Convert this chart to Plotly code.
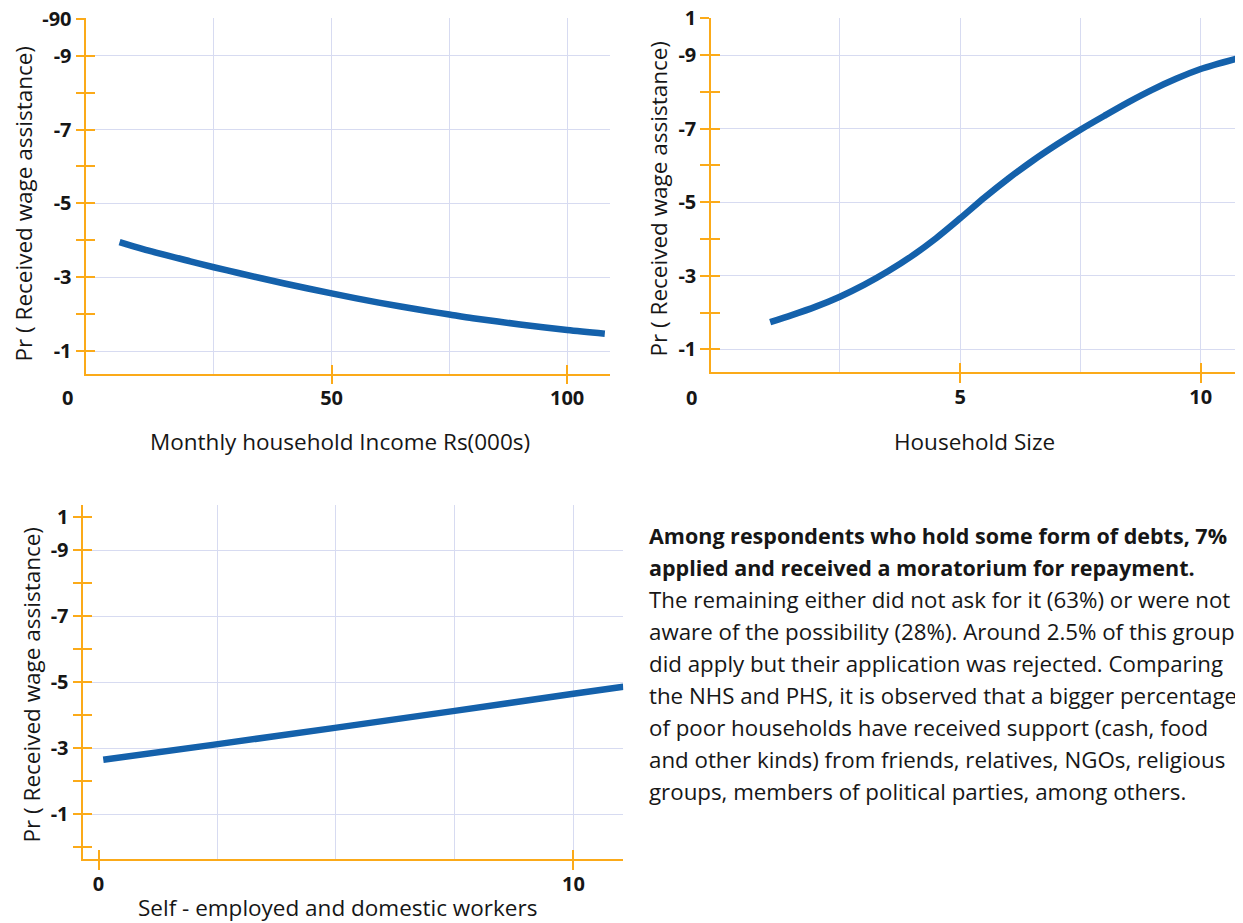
import plotly.graph_objects as go

W, H = 1243, 923          # photographed window
OFF = 8                   # the page body adds an 8px margin
FW, FH = W - OFF, H - OFF  # figure size so that it fits the window exactly
FONT = "Open Sans"
ORANGE = "#FBAA19"
GRID = "#D7DBF1"
BLUE = "#1461AB"
INK = "#161616"

# ---------------- data ----------------
income_x = [5, 10, 20, 25, 30, 40, 50, 60, 70, 75, 80, 90, 100, 108]
income_y = [0.395, 0.376, 0.343, 0.327, 0.312, 0.283, 0.256, 0.231, 0.209, 0.199, 0.189, 0.172, 0.157, 0.147]

hh_x = [1.05, 1.5, 2, 2.5, 3, 3.5, 4, 4.5, 5, 5.5, 6, 6.5, 7, 7.5, 8, 8.5, 9, 9.5, 10, 10.8]
hh_y = [0.174, 0.193, 0.216, 0.243, 0.275, 0.312, 0.354, 0.402, 0.456, 0.512, 0.564, 0.612,
        0.656, 0.697, 0.735, 0.772, 0.806, 0.836, 0.862, 0.892]

self_x = [0.1, 2.4, 4.9, 7.5, 10, 11.05]
self_y = [0.265, 0.310, 0.360, 0.413, 0.465, 0.486]

# tick values / labels
y_label_vals = [0.1, 0.3, 0.5, 0.7, 0.9, 1.0]
y_labels_income = ["-1", "-3", "-5", "-7", "-9", "-90"]
y_labels_other = ["-1", "-3", "-5", "-7", "-9", "1"]
y_grid_vals = [0.1, 0.3, 0.5, 0.7, 0.9]
y_minor_vals = [0.2, 0.4, 0.6, 0.8]
y_minor_vals_self = [0.0, 0.2, 0.4, 0.6, 0.8]

income_ticks, income_ticktext, income_grid = [50, 100], ["50", "100"], [25, 50, 75, 100]
hh_ticks, hh_ticktext, hh_grid = [5, 10], ["5", "10"], [2.5, 5, 7.5, 10]
self_ticks, self_ticktext, self_grid = [0, 10], ["0", "10"], [2.5, 5, 7.5, 10]

y_title = "Pr ( Received wage assistance)"
x_titles = ["Monthly household Income Rs(000s)", "Household Size", "Self - employed and domestic workers"]

body_bold = ["Among respondents who hold some form of debts, 7%",
             "applied and received a moratorium for repayment."]
body_regular = ["The remaining either did not ask for it (63%) or were not",
                "aware of the possibility (28%). Around 2.5% of this group",
                "did apply but their application was rejected. Comparing",
                "the NHS and PHS, it is observed that a bigger percentage",
                "of poor households have received support (cash, food",
                "and other kinds) from friends, relatives, NGOs, religious",
                "groups, members of political parties, among others."]

# ---------------- layout geometry (window pixels) ----------------
panels = [
    dict(x=income_x, y=income_y, px=(86.3, 610), py=(18.4, 373.7), xr=[-2.06, 109.1], yr=[0.0386, 1.001],
         ticks=income_ticks, ticktext=income_ticktext, grid=income_grid,
         ylabels=y_labels_income, yminor=y_minor_vals),
    dict(x=hh_x, y=hh_y, px=(711, 1243), py=(17.9, 372.3), xr=[-0.18, 10.88], yr=[0.0375, 1.001],
         ticks=hh_ticks, ticktext=hh_ticktext, grid=hh_grid,
         ylabels=y_labels_other, yminor=y_minor_vals),
    dict(x=self_x, y=self_y, px=(83.3, 623.3), py=(505, 859), xr=[-0.32, 11.05], yr=[-0.036, 1.037],
         ticks=self_ticks, ticktext=self_ticktext, grid=self_grid,
         ylabels=y_labels_other, yminor=y_minor_vals_self),
]


def fx(p):
    return (p - OFF) / FW


def fy(p):
    return 1 - (p - OFF) / FH


fig = go.Figure()
layout = dict(width=FW, height=FH, margin=dict(l=0, r=0, t=0, b=0, autoexpand=False),
              paper_bgcolor="white", plot_bgcolor="white", showlegend=False,
              font=dict(family=FONT, color=INK))

tickfont = dict(family=FONT, size=20, color=INK, weight="bold")
tick_common = dict(ticklen=9, tickwidth=1.5, tickcolor=ORANGE)

for i, p in enumerate(panels):
    k = i + 1
    o = i + 4
    kx = "x" if k == 1 else f"x{k}"
    ky = "y" if k == 1 else f"y{k}"
    fig.add_trace(go.Scatter(x=p["x"], y=p["y"], mode="lines", xaxis=kx, yaxis=ky,
                             line=dict(color=BLUE, width=6.5, shape="spline", smoothing=0.8),
                             hoverinfo="skip"))
    fig.add_trace(go.Scatter(x=[None], y=[None], mode="lines", xaxis=f"x{o}", yaxis=f"y{o}",
                             hoverinfo="skip"))

    xdom = [fx(p["px"][0]), min(1.0, fx(p["px"][1]))]
    ydom = [fy(p["py"][1]), fy(p["py"][0])]
    grid_only = [v for v in p["grid"] if v not in p["ticks"]]
    tick_grid = [v for v in p["ticks"] if v in p["grid"]]
    tick_nogrid = [v for v in p["ticks"] if v not in p["grid"]]

    layout[f"xaxis{k if k > 1 else ''}"] = dict(
        domain=xdom, range=p["xr"], anchor=ky, tickmode="array", tickvals=p["ticks"],
        ticktext=p["ticktext"], ticks="outside", **tick_common, tickfont=tickfont,
        ticklabelstandoff=-3, ticklabeloverflow="allow", automargin=False,
        showline=True, linecolor=ORANGE, linewidth=1.5, showgrid=False, zeroline=False,
        minor=dict(tickvals=grid_only, ticks="", showgrid=True, gridcolor=GRID, gridwidth=1.3))
    layout[f"xaxis{o}"] = dict(
        overlaying=kx, anchor=f"y{o}", range=p["xr"], tickmode="array", tickvals=tick_grid,
        ticks="inside", **tick_common, showticklabels=False, showline=False, automargin=False,
        showgrid=True, gridcolor=GRID, gridwidth=1.3, zeroline=False,
        minor=dict(tickvals=tick_nogrid, ticks="inside", ticklen=9, tickwidth=1.5,
                   tickcolor=ORANGE, showgrid=False))
    layout[f"yaxis{k if k > 1 else ''}"] = dict(
        domain=ydom, range=p["yr"], anchor=kx, tickmode="array", tickvals=y_label_vals,
        ticktext=p["ylabels"], ticks="outside", **tick_common, tickfont=tickfont,
        ticklabeloverflow="allow", automargin=False,
        showline=True, linecolor=ORANGE, linewidth=1.5, showgrid=False, zeroline=False,
        minor=dict(tickvals=p["yminor"], ticks="outside", ticklen=9, tickwidth=1.5,
                   tickcolor=ORANGE, showgrid=False))
    layout[f"yaxis{o}"] = dict(
        overlaying=ky, anchor=f"x{o}", range=p["yr"], tickmode="array", tickvals=y_grid_vals,
        ticks="inside", **tick_common, showticklabels=False, showline=False, automargin=False,
        showgrid=True, gridcolor=GRID, gridwidth=1.3, zeroline=False,
        minor=dict(tickvals=p["yminor"] + [1.0], ticks="inside", ticklen=9, tickwidth=1.5,
                   tickcolor=ORANGE, showgrid=False))

annotations = []


def ann(text, xp, yp, **kw):
    d = dict(text=text, x=fx(xp), y=fy(yp), xref="paper", yref="paper", showarrow=False)
    d.update(kw)
    annotations.append(d)


title_font = dict(family=FONT, size=22.5, color=INK)
for xp, yp in [(22.5, 204), (657.5, 199), (30.5, 685)]:
    ann(y_title, xp, yp, textangle=-90, font=title_font, xanchor="center", yanchor="middle")
for t, (xp, yp) in zip(x_titles, [(340, 441), (974, 441), (337, 907)]):
    ann(t, xp, yp, font=title_font, xanchor="center", yanchor="middle")
for xp in [67, 691]:
    ann("0", xp, 397, font=tickfont, xanchor="center", yanchor="middle")

line_top, line_step = 535, 32
for j, t in enumerate(body_bold + body_regular):
    bold = j < len(body_bold)
    ann(t, 647, line_top + j * line_step, xanchor="left", yanchor="middle",
        font=dict(family=FONT, size=21.5 if bold else 22.3, color=INK,
                  weight="bold" if bold else "normal"))

layout["annotations"] = annotations
fig.update_layout(**layout)
fig.write_html("out.html")
